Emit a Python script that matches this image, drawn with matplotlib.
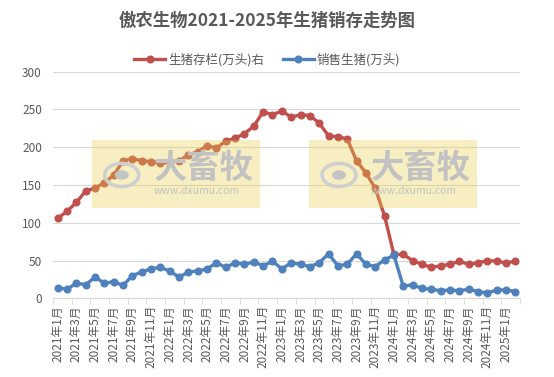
import matplotlib
matplotlib.use("Agg")
import matplotlib.pyplot as plt
from matplotlib.patches import Rectangle, Circle

plt.rcParams["font.family"] = ["Noto Sans CJK SC", "DejaVu Sans"]

# months 2021-01 .. 2025-02
months = [f"{y}年{m}月" for y in range(2021, 2026) for m in range(1, 13)][:50]

stock = [106, 115, 127, 142, 146, 153, 163, 182, 185, 182,
         181, 179, 180, 182, 190, 194, 202, 199, 208, 212,
         218, 228, 247, 243, 248, 240, 243, 242, 232, 215,
         214, 211, 182, 166, 146, 109, 58, 58, 50, 45,
         41, 43, 45, 49, 45, 47, 50, 49, 47, 49]

sales = [14, 12, 20, 18, 28, 20, 22, 17, 30, 35,
         39, 41, 36, 28, 35, 36, 39, 47, 41, 47,
         45, 48, 43, 49, 39, 47, 45, 42, 47, 59,
         43, 45, 59, 45, 42, 51, 57, 16, 18, 13,
         12, 10, 11, 10, 12, 9, 7, 11, 11, 9]

red = "#C0504D"
blue = "#4F81BD"

fig = plt.figure(figsize=(5.54, 3.77), dpi=100)
ax = fig.add_axes([53 / 554, 1 - 298.3 / 377, 467 / 554, 226.6 / 377])

x = list(range(len(months)))
ax.plot(x, stock, color=red, lw=2.4, marker="o", ms=4.8, label="生猪存栏(万头)右", zorder=3)
ax.plot(x, sales, color=blue, lw=2.4, marker="o", ms=4.8, label="销售生猪(万头)", zorder=3)

ax.set_xlim(-0.5, len(months) - 0.5)
ax.set_ylim(0, 300)
ax.set_yticks(range(0, 301, 50))
ax.grid(axis="y", color="#D9D9D9", lw=0.8)
ax.set_axisbelow(True)
for s in ["left", "right", "top"]:
    ax.spines[s].set_visible(False)
ax.spines["bottom"].set_color("#D9D9D9")
ax.tick_params(axis="y", length=0, labelsize=8.5, labelcolor="#595959", pad=8)

ax.set_xticks(x[::2])
ax.set_xticklabels(months[::2], rotation=90, fontsize=8.5, color="#595959")
ax.tick_params(axis="x", which="major", length=0, pad=5)
ax.set_xticks([i - 0.5 for i in range(0, len(months) + 1, 2)], minor=True)
ax.tick_params(axis="x", which="minor", length=4, color="#D9D9D9")

# watermark boxes
for x0, x1 in [(91.7, 260), (309, 477)]:
    fx, fw = x0 / 554, (x1 - x0) / 554
    fy, fh = 1 - 208 / 377, 68 / 377
    fig.patches.append(Rectangle((fx, fy), fw, fh, transform=fig.transFigure,
                                 facecolor="#E8CE45", alpha=0.33, edgecolor="none", zorder=5))
    fig.patches.append(Circle(((x0 + 30) / 554, 1 - 175 / 377), 17 / 554, transform=fig.transFigure,
                              facecolor="none", edgecolor="#CFCFCF", lw=2.5, zorder=6))
    fig.patches.append(Circle(((x0 + 30) / 554, 1 - 175 / 377), 7 / 554, transform=fig.transFigure,
                              facecolor="#C4C4C4", edgecolor="none", zorder=6))
    fig.text((x0 + 62) / 554, 1 - 168 / 377, "大畜牧", fontsize=24, color="#C2C2C2",
             weight="bold", va="center", ha="left", zorder=6)
    fig.text((x0 + 62) / 554, 1 - 191 / 377, "www.dxumu.com", fontsize=7.5, color="#C2C2C2",
             va="center", ha="left", zorder=6)

fig.text(267 / 554, 1 - 21 / 377, "傲农生物2021-2025年生猪销存走势图", fontsize=12.5,
         weight="bold", color="#595959", ha="center", va="center")

ax.legend(loc="center", bbox_to_anchor=(267 / 554, 1 - 60 / 377), bbox_transform=fig.transFigure,
          ncol=2, frameon=False, fontsize=9, labelcolor="#595959", handlelength=2.5,
          columnspacing=1.5, handletextpad=0.2)

fig.savefig("out.png", dpi=100)
